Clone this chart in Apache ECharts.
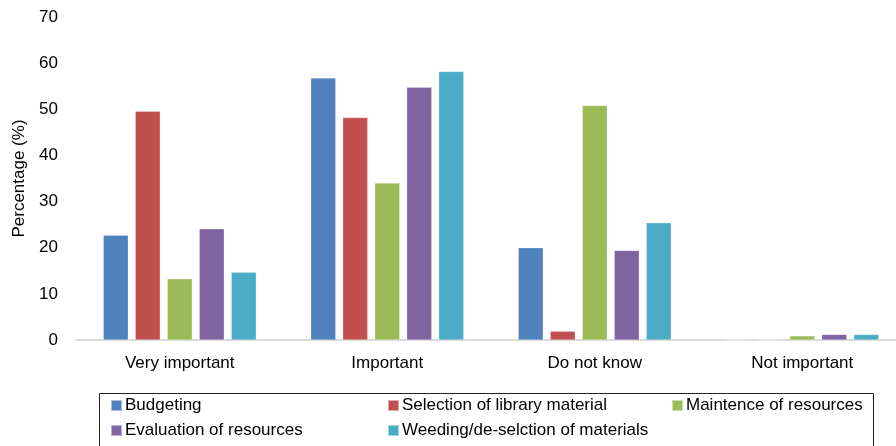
<!DOCTYPE html>
<html>
<head>
<meta charset="utf-8">
<script src="https://cdn.jsdelivr.net/npm/echarts@6/dist/echarts.min.js"></script>
<style>
	html, body { margin: 0; padding: 0; background: #fff; }
	#chart { width: 896px; height: 446px; }
</style>
</head>
<body>
<div id="chart"></div>
<script>
// categories and values
var categories = ['Very important', 'Important', 'Do not know', 'Not important'];
var seriesNames = ['Budgeting', 'Selection of library material', 'Maintence of resources', 'Evaluation of resources', 'Weeding/de-selction of materials'];
var budgeting = [22.7, 56.8, 20.0, 0];
var selection = [49.6, 48.2, 1.9, 0];
var maintence = [13.3, 34.0, 50.8, 0.9];
var evaluation = [24.1, 54.8, 19.4, 1.2];
var weeding = [14.7, 58.2, 25.4, 1.2];
var yTicks = [0, 10, 20, 30, 40, 50, 60, 70];

var colors = ['#4F81BD', '#C0504D', '#9BBB59', '#8064A2', '#4BACC6'];
var allData = [budgeting, selection, maintence, evaluation, weeding];
var fontFamily = '"Liberation Sans", "DejaVu Sans", sans-serif';

var chart = echarts.init(document.getElementById('chart'), null, { renderer: 'canvas' });

// legend positions (two rows, three columns)
var legendPos = [[110, 397], [387, 397], [671, 397], [110, 422], [387, 422]];
var legends = [];
for (var i = 0; i < seriesNames.length; i++) {
	legends.push({
		data: [seriesNames[i]],
		left: legendPos[i][0],
		top: legendPos[i][1],
		padding: 0,
		icon: 'rect',
		itemWidth: 11,
		itemHeight: 11,
		itemGap: 0,
		selectedMode: false,
		textStyle: { fontFamily: fontFamily, fontSize: 17, color: '#000', padding: [0, 0, 0, -2] }
	});
}

var series = [];
for (var j = 0; j < seriesNames.length; j++) {
	series.push({
		name: seriesNames[j],
		type: 'bar',
		data: allData[j],
		barWidth: 25,
		barGap: '28%',
		itemStyle: { color: colors[j], borderColor: 'rgba(255,255,255,0.5)', borderWidth: 0.5 },
		emphasis: { disabled: true }
	});
}

var option = {
	animation: false,
	color: colors,
	legend: legends,
	graphic: [{
		type: 'rect',
		left: 97,
		top: 391,
		shape: { width: 774, height: 60 },
		style: { fill: 'none', stroke: '#222', lineWidth: 1 },
		silent: true
	}],
	grid: {
		left: 76,
		top: 17,
		width: 830,
		bottom: 106,
		containLabel: false,
		outerBoundsMode: 'none'
	},
	xAxis: {
		type: 'category',
		data: categories,
		axisLine: { show: true, lineStyle: { color: '#d0d0d0', width: 1.5 } },
		axisTick: { show: false },
		axisLabel: { fontFamily: fontFamily, fontSize: 17, color: '#000', margin: 15 }
	},
	yAxis: {
		type: 'value',
		min: yTicks[0],
		max: yTicks[yTicks.length - 1],
		interval: 10,
		name: 'Percentage (%)',
		nameLocation: 'middle',
		nameGap: 46,
		nameRotate: 90,
		nameTextStyle: { fontFamily: fontFamily, fontSize: 17, color: '#000' },
		axisLine: { show: false },
		axisTick: { show: false },
		splitLine: { show: false },
		axisLabel: { fontFamily: fontFamily, fontSize: 17, color: '#000', margin: 18 }
	},
	series: series
};

chart.setOption(option);
</script>
</body>
</html>
